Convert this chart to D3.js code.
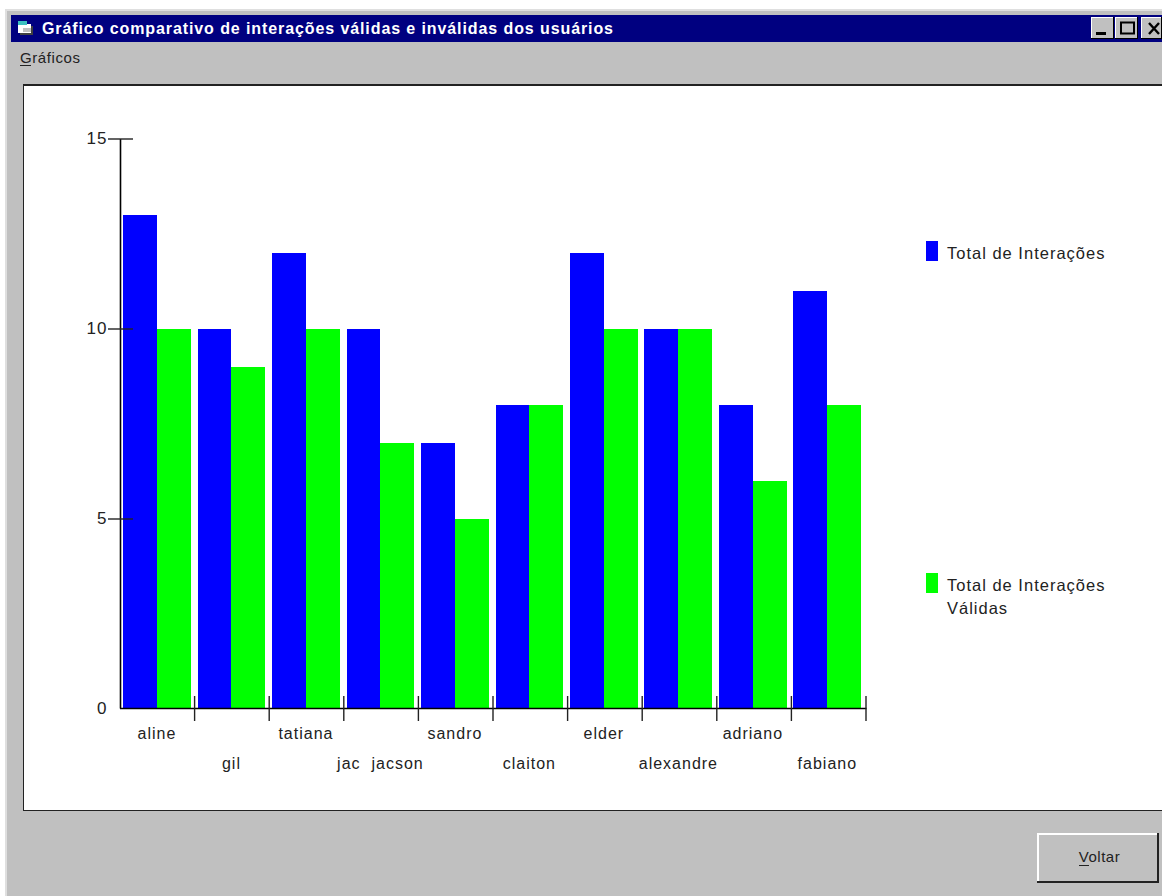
<!DOCTYPE html>
<html lang="pt">
<head>
<meta charset="utf-8">
<title>Gráfico comparativo</title>
<script src="https://cdn.jsdelivr.net/npm/d3@7/dist/d3.min.js"></script>
<style>
html,body{margin:0;padding:0;background:#fff;overflow:hidden}
svg{display:block}
text{font-family:"Liberation Sans",Arial,sans-serif;fill:#222;letter-spacing:1px;white-space:pre}
</style>
</head>
<body>
<svg id="janela" width="1162" height="896"></svg>
<script>
// Users and their interaction counts
const usuarios = ["aline","gil","tatiana","jac  jacson","sandro","claiton","elder","alexandre","adriano","fabiano"];
const totalInteracoes = [13,10,12,10,7,8,12,10,8,11];
const totalValidas = [10,9,10,7,5,8,10,10,6,8];
const marcasY = [0,5,10,15];
const series = ["Total de Interações","Total de Interações Válidas"];
const cores = ["#0000ff","#00ff00"];

const svg = d3.select("#janela");

// Small helper for flat window-chrome rectangles
const caixa = (g,x,y,w,h,fill) => g.append("rect").attr("x",x).attr("y",y).attr("width",w).attr("height",h).attr("fill",fill).attr("shape-rendering","crispEdges");

// ---- Window frame ----
const jan = svg.append("g");
caixa(jan,5,9,1157,887,"#dfdfdf");
caixa(jan,7,11,1155,885,"#c0c0c0");
caixa(jan,11,15,1151,27,"#000080");

// Title bar icon: a small folder
caixa(jan,20,26,13,9,"#404040");
caixa(jan,18,24,13,9,"#ffffff");
caixa(jan,18,21,9,4,"#3cc0c0");
caixa(jan,23,28,8,4,"#c0c0c0");

jan.append("text").attr("x",42).attr("y",34).attr("font-size",16).attr("font-weight",700)
  .attr("textLength",572).attr("lengthAdjust","spacing").style("fill","#fff").style("letter-spacing",null)
  .text("Gráfico comparativo de interações válidas e inválidas dos usuários");

// Title bar buttons: minimise, maximise, close
const botao = (x,w) => {
  caixa(jan,x,17,w,22,"#000000");
  caixa(jan,x,17,w-1,21,"#ffffff");
  caixa(jan,x+1,18,w-2,20,"#c0c0c0");
};
botao(1091,23); botao(1115,23); botao(1141,21);
caixa(jan,1096,32,10,3,"#000");
jan.append("rect").attr("x",1121).attr("y",22.5).attr("width",13).attr("height",11).attr("fill","none").attr("stroke","#000").attr("stroke-width",2);
jan.append("path").attr("d","M1149 23L1159 34M1159 23L1149 34").attr("stroke","#000").attr("stroke-width",2.4);

// Menu bar
jan.append("text").attr("x",20).attr("y",63).attr("font-size",15).style("letter-spacing","0.6px").text("Gráficos");
caixa(jan,20,65,11,1,"#222");

// White chart panel
caixa(jan,23,84,1139,727,"#222222");
caixa(jan,24,86,1138,724,"#ffffff");

// Voltar button: raised, with a heavier lower-right edge
caixa(jan,1037,833,122,50,"#222222");
caixa(jan,1037,833,120,48,"#ffffff");
caixa(jan,1039,835,118,46,"#c0c0c0");
jan.append("text").attr("x",1099.5).attr("y",862).attr("text-anchor","middle").attr("font-size",15).style("letter-spacing","0.5px").text("Voltar");
caixa(jan,1079,865,10,1,"#222");

// ---- Chart ----
const x0 = 120, x1 = 866, yBase = 708.5, yTopo = 138.5;
const y = d3.scaleLinear().domain([0,15]).range([yBase,yTopo]);
const xGrupo = d3.scaleBand().domain(d3.range(usuarios.length)).range([119.7,864.6]).paddingInner(0.09).paddingOuter(0.045);
const xSerie = d3.scaleBand().domain([0,1]).range([0,xGrupo.bandwidth()]);
const xMarca = d3.scaleLinear().domain([0,usuarios.length]).range([x0-0.5,x1-0.5]);

const grafico = svg.append("g");

[totalInteracoes,totalValidas].forEach((valores,s) => {
  grafico.append("g").selectAll("rect").data(valores).join("rect")
    .attr("x",(d,i) => xGrupo(i)+xSerie(s))
    .attr("y",d => y(d))
    .attr("width",xSerie.bandwidth())
    .attr("height",d => yBase-y(d))
    .attr("fill",cores[s])
    .attr("shape-rendering","crispEdges");
});

// Vertical axis with ticks crossing the line; zero has a label only
const eixoY = grafico.append("g").attr("transform",`translate(${x0},0)`)
  .call(d3.axisLeft(y).tickValues(marcasY).tickSize(12).tickPadding(3).tickFormat(d3.format("d")));
eixoY.select(".domain").attr("d",`M0.5,${yBase}V${yTopo+0.5}`).attr("stroke","#000").attr("stroke-width",1.6);
eixoY.selectAll(".tick line").attr("x1",-12).attr("x2",13).attr("stroke","#222").attr("stroke-width",1.4)
  .filter(d => d===0).remove();
eixoY.selectAll(".tick text").attr("font-size",17).attr("x",-12.5).style("font-family",'"Liberation Sans",Arial,sans-serif').style("fill","#222");

// Horizontal axis: ticks sit between the groups and straddle the baseline
const eixoX = grafico.append("g").attr("transform",`translate(0,708)`)
  .call(d3.axisBottom(xMarca).tickValues(d3.range(1,usuarios.length+1)).tickSize(13).tickFormat(""));
eixoX.select(".domain").attr("d",`M${x0},0.5H${x1+0.5}`).attr("stroke","#000").attr("stroke-width",1.4);
eixoX.selectAll(".tick line").attr("y1",-12).attr("y2",13).attr("stroke","#222").attr("stroke-width",1.4);

// Category labels alternate between two rows
grafico.append("g").selectAll("text").data(usuarios).join("text")
  .attr("x",(d,i) => xGrupo(i)+xGrupo.bandwidth()/2)
  .attr("y",(d,i) => i%2===0 ? 739 : 769)
  .attr("text-anchor","middle").attr("font-size",16)
  .text(d => d);

// Legend
const legenda = svg.append("g");
[[241,258],[573,590]].forEach(([yM,yT],s) => {
  caixa(legenda,926,yM,12,20,cores[s]);
  legenda.append("text").attr("x",947).attr("y",yT+1).attr("font-size",16.5).text("Total de Interações");
});
legenda.append("text").attr("x",947).attr("y",614).attr("font-size",16.5).text("Válidas");
</script>
</body>
</html>
